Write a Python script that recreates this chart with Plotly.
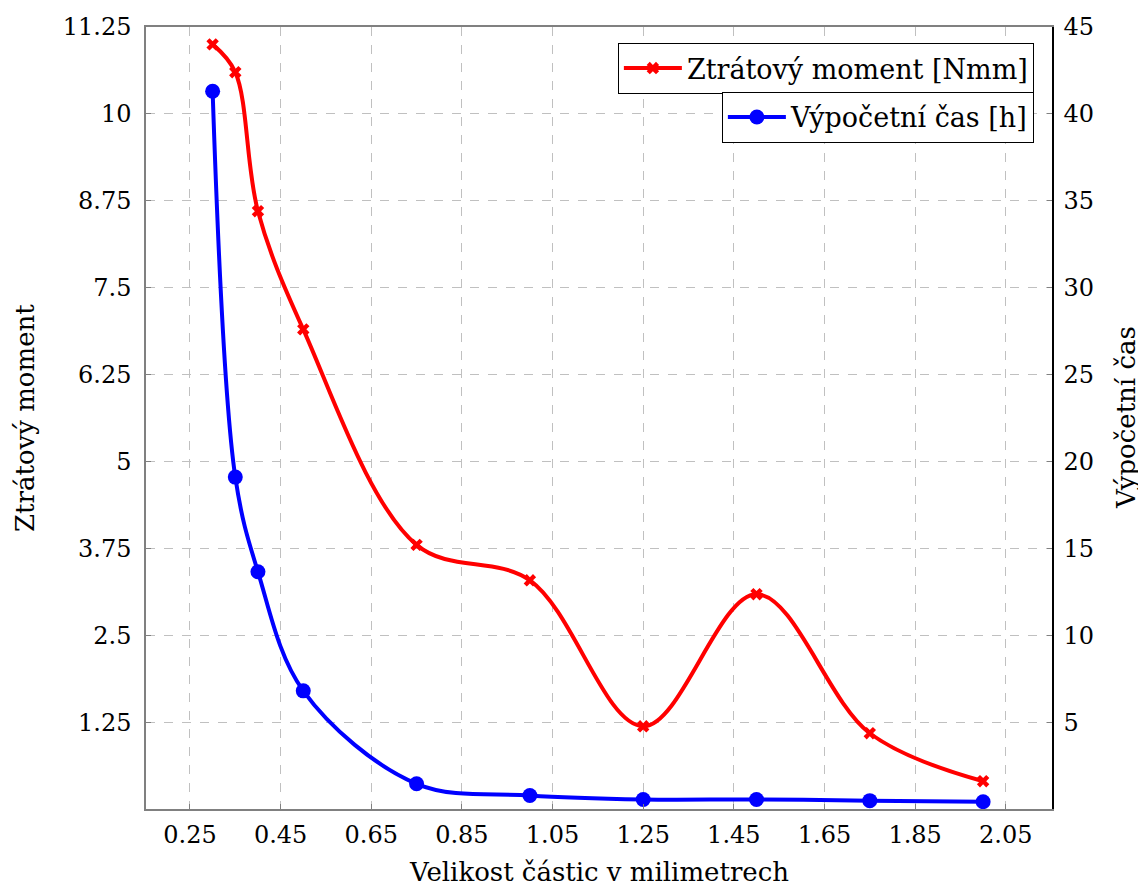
import plotly.graph_objects as go

sizes = [0.3, 0.35, 0.4, 0.5, 0.75, 1.0, 1.25, 1.5, 1.75, 2.0]
moment = [11.0, 10.6, 8.6, 6.9, 3.8, 3.29, 1.19, 3.09, 1.09, 0.40]
time_h = [41.3, 19.1, 13.65, 6.8, 1.45, 0.78, 0.55, 0.55, 0.48, 0.42]

x_ticks = [0.25, 0.45, 0.65, 0.85, 1.05, 1.25, 1.45, 1.65, 1.85, 2.05]
y1_ticks = [1.25, 2.5, 3.75, 5, 6.25, 7.5, 8.75, 10, 11.25]
y1_labels = ["1.25", "2.5", "3.75", "5", "6.25", "7.5", "8.75", "10", "11.25"]
y2_ticks = [5, 10, 15, 20, 25, 30, 35, 40, 45]

FONT = "'DejaVu Serif', serif"
FS = 24
TFS = 26
LFS = 27

fig = go.Figure()
fig.add_trace(go.Scatter(
    x=sizes, y=moment, name="Ztrátový moment [Nmm]",
    mode="lines+markers", line=dict(color="red", width=4, shape="spline", smoothing=1.0),
    marker=dict(symbol="x", size=11, color="red"),
    legend="legend", yaxis="y", showlegend=True))
fig.add_trace(go.Scatter(
    x=sizes, y=time_h, name="Výpočetní čas [h]",
    mode="lines+markers", line=dict(color="blue", width=4, shape="spline", smoothing=1.0),
    marker=dict(symbol="circle", size=15, color="blue"),
    legend="legend2", yaxis="y2", showlegend=True))

grid = dict(showgrid=True, gridcolor="#c0c0c0", griddash="dash", gridwidth=1, zeroline=False)

fig.update_layout(
    width=1138, height=881,
    margin=dict(l=138, r=94, t=19, b=80, autoexpand=False),
    showlegend=True,
    plot_bgcolor="white", paper_bgcolor="white",
    font=dict(family=FONT, size=FS, color="black"),
    xaxis=dict(range=[0.153, 2.152], tickvals=x_ticks, ticktext=[f"{v:.2f}" for v in x_ticks],
               showline=True, linecolor="#808080", linewidth=1.5, mirror=True,
               ticks="inside", ticklen=5, tickcolor="#808080", automargin=False,
               ticklabelstandoff=3, **grid),
    yaxis=dict(range=[0, 11.25], tickvals=y1_ticks, ticktext=y1_labels,
               showline=True, linecolor="#808080", linewidth=1.5, mirror="ticks",
               ticks="inside", ticklen=5, tickcolor="#808080", automargin=False,
               ticklabelstandoff=8, **grid),
    yaxis2=dict(range=[0, 45], tickvals=y2_ticks, overlaying="y", side="right",
                showline=True, linecolor="black", linewidth=1.5, automargin=False,
                ticks="", showgrid=False, zeroline=False, ticklabelstandoff=5),
    legend=dict(x=0.98, y=0.9795, xanchor="right", yanchor="top",
                bordercolor="black", borderwidth=1, bgcolor="white",
                font=dict(family=FONT, size=LFS), itemwidth=58),
    legend2=dict(x=0.98, y=0.917, xanchor="right", yanchor="top",
                 bordercolor="black", borderwidth=1, bgcolor="white",
                 font=dict(family=FONT, size=LFS), itemwidth=58),
    annotations=[
        dict(text="Velikost částic v milimetrech", xref="paper", yref="paper", x=0.5, y=0,
             xanchor="center", yanchor="middle", yshift=-63, showarrow=False,
             font=dict(family=FONT, size=TFS)),
        dict(text="Ztrátový moment", xref="paper", yref="paper", x=0, y=0.5,
             xanchor="center", yanchor="middle", xshift=-121, textangle=-90, showarrow=False,
             font=dict(family=FONT, size=TFS)),
        dict(text="Výpočetní čas", xref="paper", yref="paper", x=1, y=0.5,
             xanchor="center", yanchor="middle", xshift=74, textangle=-90, showarrow=False,
             font=dict(family=FONT, size=TFS)),
    ],
)

fig.write_html("out.html")
